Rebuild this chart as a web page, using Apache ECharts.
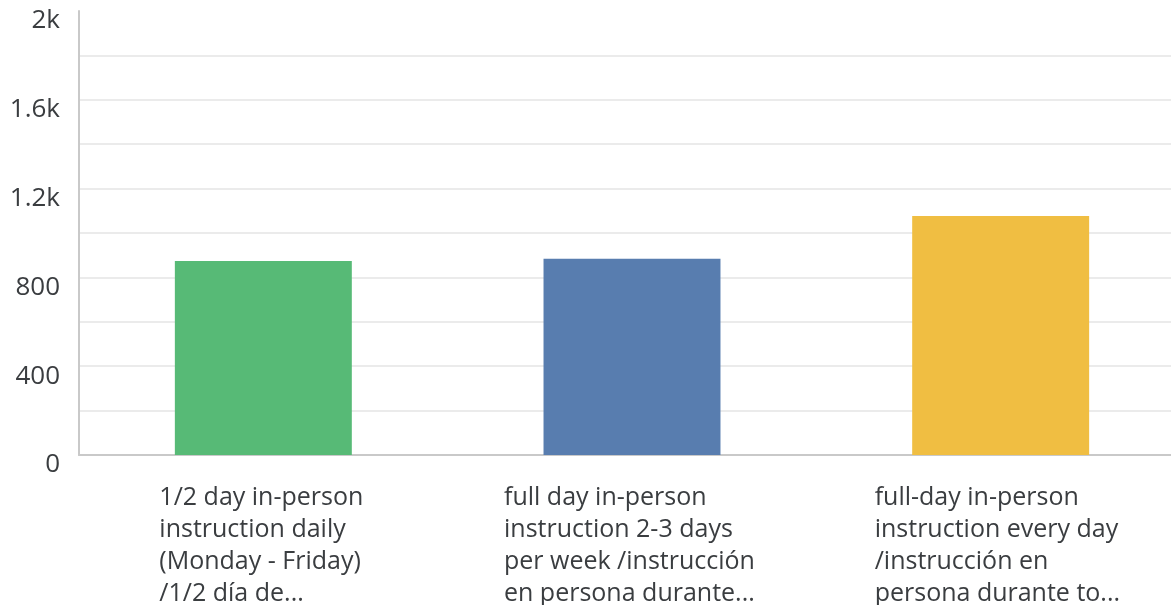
<!DOCTYPE html>
<html>
<head>
<meta charset="utf-8">
<script src="https://cdn.jsdelivr.net/npm/echarts@6/dist/echarts.min.js"></script>
<style>
  html, body { margin: 0; padding: 0; background: #fff; }
  #chart { width: 1171px; height: 605px; }
</style>
</head>
<body>
<div id="chart"></div>
<script>
'use strict';

// answer options (labels already truncated like the survey tool does)
const categories = [
    '1/2 day in-person\ninstruction daily\n(Monday - Friday)\n/1/2 día de...',
    'full day in-person\ninstruction 2-3 days\nper week /instrucción\nen persona durante...',
    'full-day in-person\ninstruction every day\n/instrucción en\npersona durante to...'
];
const counts = [874, 884, 1077];
const barColors = ['#57ba76', '#587daf', '#f0be42'];
const yTicks = {0: '0', 400: '400', 800: '800', 1200: '1.2k', 1600: '1.6k', 2000: '2k'};

const fontFamily = '"Open Sans", sans-serif';
const textColor = '#3a3d40';

// each label block is centred under its bar, lines left aligned inside it
const blockWidths = [208, 256, 252];
const rich = {};
blockWidths.forEach((w, i) => {
    rich['c' + i] = {
        width: w,
        align: 'left',
        fontSize: 25,
        lineHeight: 32,
        fontFamily: fontFamily,
        color: textColor
    };
});

const chart = echarts.init(document.getElementById('chart'), null, {renderer: 'canvas'});

chart.setOption({
    animation: false,
    // plot runs a bit past the right edge of the window, as in the survey export
    grid: {left: 79, width: 1106, top: 11, bottom: 150, containLabel: false, outerBoundsMode: 'none'},
    xAxis: {
        type: 'category',
        data: categories,
        axisLine: {lineStyle: {color: '#c9c9c9', width: 2}},
        axisTick: {show: false},
        axisLabel: {
            interval: 0,
            margin: 27,
            align: 'center',
            formatter: (value, idx) => value.split('\n').map(line => '{c' + idx + '|' + line + '}').join('\n'),
            rich: rich
        }
    },
    yAxis: {
        type: 'value',
        min: 0,
        max: 2000,
        interval: 200,
        axisLine: {show: true, lineStyle: {color: '#c9c9c9', width: 2}},
        axisTick: {show: false},
        splitLine: {show: true, showMaxLine: false, lineStyle: {color: '#ebebeb', width: 2}},
        axisLabel: {
            margin: 19,
            verticalAlign: 'top',
            lineHeight: 20,
            fontSize: 26,
            fontFamily: fontFamily,
            color: textColor,
            formatter: v => (yTicks[v] !== undefined ? yTicks[v] : '')
        }
    },
    series: [{
        type: 'bar',
        barWidth: '48%',
        data: counts.map((v, i) => ({value: v, itemStyle: {color: barColors[i]}}))
    }]
});
</script>
</body>
</html>
